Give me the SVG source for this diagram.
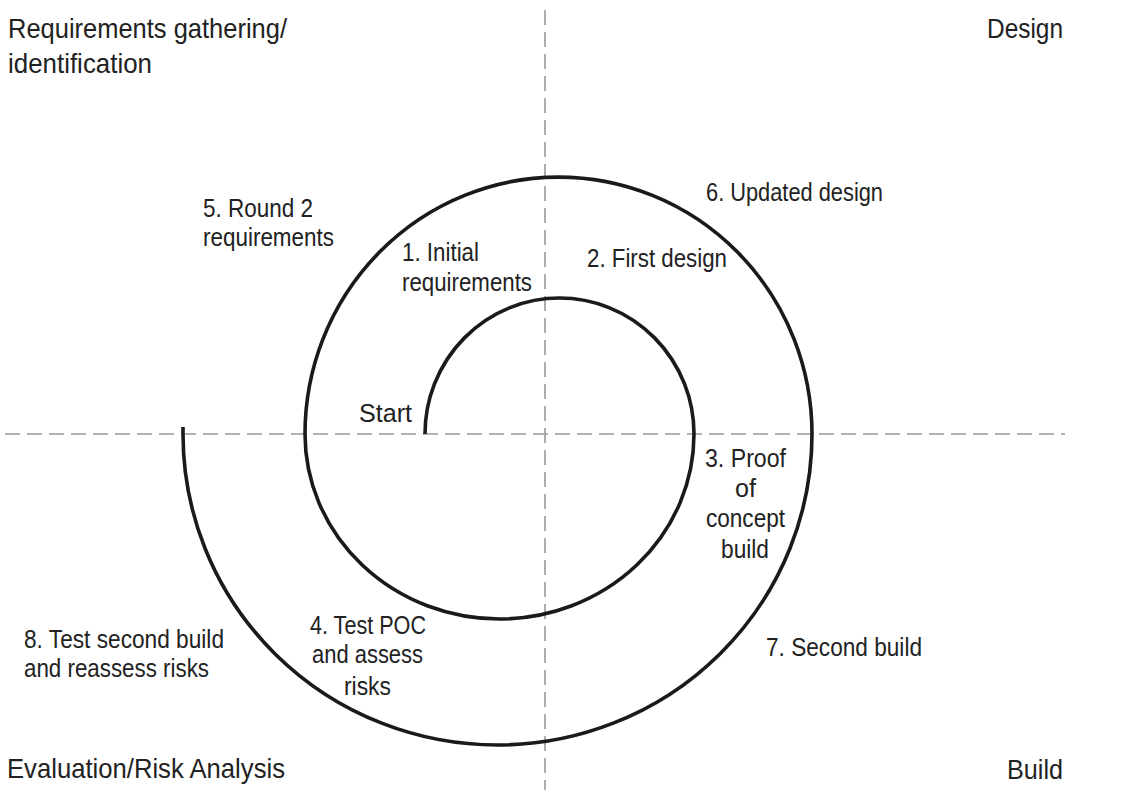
<svg xmlns="http://www.w3.org/2000/svg" width="1127" height="798" viewBox="0 0 1127 798">
<style>
  .axis { stroke: #9a9a9a; stroke-width: 1.6; stroke-dasharray: 15 7; fill: none; }
  .spiral { stroke: #1a1a1a; stroke-width: 3.6; fill: none; stroke-linecap: butt; }
  .hdr { font-family: "Liberation Sans", Arial, sans-serif; font-size: 28px; fill: #222; }
  .lbl { font-family: "Liberation Sans", Arial, sans-serif; font-size: 25.5px; fill: #222; }
</style>
<rect width="1127" height="798" fill="#ffffff"/>
<g id="axes">
  <line class="axis" x1="5" y1="434" x2="1065" y2="434"/>
  <line class="axis" x1="545" y1="10" x2="545" y2="790"/>
</g>
<g id="connectors">
  <path class="spiral" d="M425,434 A134.5,136 0 0 1 694,434 A194.5,185 0 0 1 305,434 A253.5,257 0 0 1 812,434 A314.5,311 0 0 1 183,434 L183,427"/>
</g>
<g id="quadrant-requirements">
  <text class="hdr" x="8" y="38" textLength="279" lengthAdjust="spacingAndGlyphs">Requirements gathering/</text>
  <text class="hdr" x="8" y="73" textLength="144" lengthAdjust="spacingAndGlyphs">identification</text>
</g>
<g id="quadrant-design">
  <text class="hdr" x="987" y="38" textLength="76" lengthAdjust="spacingAndGlyphs">Design</text>
</g>
<g id="quadrant-evaluation">
  <text class="hdr" x="7" y="778" textLength="278" lengthAdjust="spacingAndGlyphs">Evaluation/Risk Analysis</text>
</g>
<g id="quadrant-build">
  <text class="hdr" x="1007" y="779" textLength="56" lengthAdjust="spacingAndGlyphs">Build</text>
</g>
<g id="start">
  <text class="lbl" x="359" y="422" textLength="53" lengthAdjust="spacingAndGlyphs">Start</text>
</g>
<g id="step1">
  <text class="lbl" x="402" y="261" textLength="77" lengthAdjust="spacingAndGlyphs">1. Initial</text>
  <text class="lbl" x="402" y="291" textLength="130" lengthAdjust="spacingAndGlyphs">requirements</text>
</g>
<g id="step2">
  <text class="lbl" x="587" y="267" textLength="140" lengthAdjust="spacingAndGlyphs">2. First design</text>
</g>
<g id="step3">
  <text class="lbl" x="705" y="467" textLength="81" lengthAdjust="spacingAndGlyphs">3. Proof</text>
  <text class="lbl" x="735" y="497" textLength="21" lengthAdjust="spacingAndGlyphs">of</text>
  <text class="lbl" x="706" y="527" textLength="79" lengthAdjust="spacingAndGlyphs">concept</text>
  <text class="lbl" x="721" y="558" textLength="48" lengthAdjust="spacingAndGlyphs">build</text>
</g>
<g id="step4">
  <text class="lbl" x="310" y="634" textLength="116" lengthAdjust="spacingAndGlyphs">4. Test POC</text>
  <text class="lbl" x="312" y="663" textLength="111" lengthAdjust="spacingAndGlyphs">and assess</text>
  <text class="lbl" x="344" y="695" textLength="47" lengthAdjust="spacingAndGlyphs">risks</text>
</g>
<g id="step5">
  <text class="lbl" x="203" y="217" textLength="110" lengthAdjust="spacingAndGlyphs">5. Round 2</text>
  <text class="lbl" x="203" y="246" textLength="131" lengthAdjust="spacingAndGlyphs">requirements</text>
</g>
<g id="step6">
  <text class="lbl" x="706" y="201" textLength="177" lengthAdjust="spacingAndGlyphs">6. Updated design</text>
</g>
<g id="step7">
  <text class="lbl" x="766" y="656" textLength="156" lengthAdjust="spacingAndGlyphs">7. Second build</text>
</g>
<g id="step8">
  <text class="lbl" x="24" y="648" textLength="200" lengthAdjust="spacingAndGlyphs">8. Test second build</text>
  <text class="lbl" x="24" y="677" textLength="185" lengthAdjust="spacingAndGlyphs">and reassess risks</text>
</g>
</svg>
